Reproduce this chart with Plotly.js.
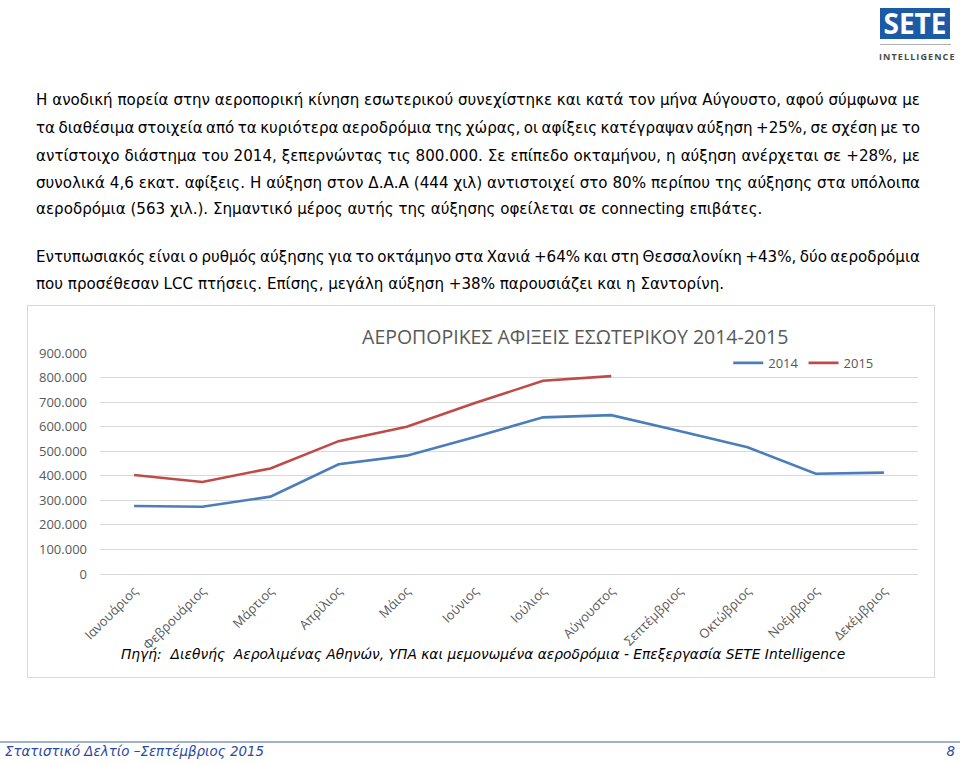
<!DOCTYPE html>
<html>
<head>
<meta charset="utf-8">
<script src="https://cdn.plot.ly/plotly-3.0.1.min.js"></script>
<style>
  html, body { margin:0; padding:0; background:#fff; }
  body { width:960px; height:765px; position:relative; overflow:hidden; font-family:"DejaVu Sans", Verdana, sans-serif; }
  .ln { position:absolute; left:36px; font-size:15.1px; line-height:20px; color:#000; white-space:nowrap; }
  #frame { position:absolute; left:27px; top:305px; width:906px; height:371px; border:1px solid #d9d9d9; }
  #chart { width:906px; height:371px; }
  #logo { position:absolute; left:880px; top:8px; width:70px; height:31px; background:#1c5aa5; color:#fff; font-family:"Open Sans", "DejaVu Sans", sans-serif; font-weight:700; font-size:28px; line-height:31px; text-align:center; }
  #logoline { position:absolute; left:880px; top:44px; width:71px; height:1px; background:#b0b0b0; }
  #logotext { position:absolute; left:879px; top:51px; width:74px; font-family:"Open Sans", "DejaVu Sans", sans-serif; font-weight:700; font-size:9px; line-height:12px; color:#4a4a4a; letter-spacing:1.1px; text-align:center; }
  #footline { position:absolute; left:0; top:741px; width:960px; height:2px; background:#9fb3c8; }
  #foottext { position:absolute; left:5px; top:742px; font-style:italic; font-size:13.4px; line-height:20px; color:#2b49a3; }
  #footpage { position:absolute; right:5px; top:742px; font-style:italic; font-size:13.4px; line-height:20px; color:#2b49a3; }
</style>
</head>
<body>
<div id="logo">SETE</div>
<div id="logoline"></div>
<div id="logotext">INTELLIGENCE</div>

<div class="ln j" style="top:90px">Η ανοδική πορεία στην αεροπορική κίνηση εσωτερικού συνεχίστηκε και κατά τον μήνα Αύγουστο, αφού σύμφωνα με</div>
<div class="ln j" style="top:118px">τα διαθέσιμα στοιχεία από τα κυριότερα αεροδρόμια της χώρας, οι αφίξεις κατέγραψαν αύξηση +25%, σε σχέση με το</div>
<div class="ln j" style="top:146px">αντίστοιχο διάστημα του 2014, ξεπερνώντας τις 800.000. Σε επίπεδο οκταμήνου, η αύξηση ανέρχεται σε +28%, με</div>
<div class="ln j" style="top:173px">συνολικά 4,6 εκατ. αφίξεις. Η αύξηση στον Δ.Α.Α (444 χιλ) αντιστοιχεί στο 80% περίπου της αύξησης στα υπόλοιπα</div>
<div class="ln" style="top:199px">αεροδρόμια (563 χιλ.). Σημαντικό μέρος αυτής της αύξησης οφείλεται σε connecting επιβάτες.</div>
<div class="ln j" style="top:247px">Εντυπωσιακός είναι ο ρυθμός αύξησης για το οκτάμηνο στα Χανιά +64% και στη Θεσσαλονίκη +43%, δύο αεροδρόμια</div>
<div class="ln" style="top:274px">που προσέθεσαν LCC πτήσεις. Επίσης, μεγάλη αύξηση +38% παρουσιάζει και η Σαντορίνη.</div>

<div id="frame"><div id="chart"></div></div>

<div id="footline"></div>
<div id="foottext">Στατιστικό Δελτίο –Σεπτέμβριος 2015</div>
<div id="footpage">8</div>

<script>
// justify full lines to a common right edge without wrapping
document.querySelectorAll(".ln.j").forEach(function (el) {
  const target = 884;
  const natural = el.getBoundingClientRect().width;
  const spaces = (el.textContent.match(/ /g) || []).length;
  if (spaces > 0) el.style.wordSpacing = ((target - natural) / spaces) + "px";
});

const months = ["Ιανουάριος","Φεβρουάριος","Μάρτιος","Απρίλιος","Μάιος","Ιούνιος","Ιούλιος","Αύγουστος","Σεπτέμβριος","Οκτώβριος","Νοέμβριος","Δεκέμβριος"];
const arrivals2014 = [277000, 274000, 315000, 447000, 482000, 558000, 638000, 647000, 582000, 516000, 408000, 413000];
const arrivals2015 = [403000, 375000, 430000, 541000, 600000, 696000, 787000, 806000];
const yTicks = [0, 100000, 200000, 300000, 400000, 500000, 600000, 700000, 800000, 900000];
const chartTitle = "ΑΕΡΟΠΟΡΙΚΕΣ ΑΦΙΞΕΙΣ ΕΣΩΤΕΡΙΚΟΥ 2014-2015";
const sourceText = "<i>Πηγή:  Διεθνής  Αερολιμένας Αθηνών, ΥΠΑ και μεμονωμένα αεροδρόμια - Επεξεργασία SETE Intelligence</i>";

const gray = "#595959";
const traces = [
  {x: months, y: arrivals2014, type: "scatter", mode: "lines", name: "2014",
   line: {color: "#4a7ebb", width: 2.6}},
  {x: months.slice(0, arrivals2015.length), y: arrivals2015, type: "scatter", mode: "lines", name: "2015",
   line: {color: "#be4b48", width: 2.6}}
];

const layout = {
  width: 906, height: 371,
  margin: {l: 72, r: 16, t: 47, b: 103},
  paper_bgcolor: "#fff", plot_bgcolor: "#fff",
  separators: ",.",
  showlegend: true,
  font: {family: "Open Sans, sans-serif", color: gray, size: 12},
  title: {text: chartTitle, x: 0.604, xanchor: "center", y: 0.917, yanchor: "middle", yref: "container",
          font: {family: "Open Sans, sans-serif", size: 19.5, color: gray}},
  legend: {orientation: "h", x: 0.768, xanchor: "left", y: 0.955, yanchor: "middle",
           font: {size: 13, color: gray}, bgcolor: "rgba(0,0,0,0)", itemwidth: 30},
  xaxis: {type: "category", range: [-0.5, 11.5], tickangle: -45, showgrid: false, zeroline: false, showline: false,
          ticks: "", tickfont: {size: 13, color: gray}, ticklabelstandoff: 6, fixedrange: true},
  yaxis: {range: [0, 900000], tickvals: yTicks, tickformat: ",d", showgrid: true, gridcolor: "#d9d9d9",
          gridwidth: 1, zeroline: true, zerolinecolor: "#d9d9d9", showline: false, ticks: "",
          tickfont: {size: 13, color: gray}, ticklabelstandoff: 12, fixedrange: true},
  annotations: [
    {text: sourceText, xref: "paper", yref: "paper", x: 0.468, y: -0.362, xanchor: "center", yanchor: "middle",
     showarrow: false, font: {family: "DejaVu Sans, sans-serif", size: 13.8, color: "#000"}}
  ]
};

Plotly.newPlot("chart", traces, layout, {displayModeBar: false, staticPlot: true});
</script>
</body>
</html>
